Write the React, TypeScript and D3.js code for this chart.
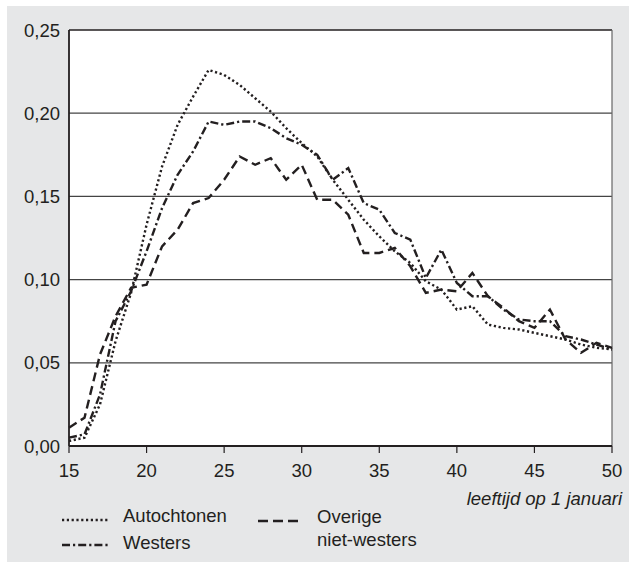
import React from "react";
import * as d3 from "d3";

const ages = [15,16,17,18,19,20,21,22,23,24,25,26,27,28,29,30,31,32,33,34,35,36,37,38,39,40,41,42,43,44,45,46,47,48,49,50];
const autochtonen = [0.003,0.005,0.025,0.063,0.092,0.133,0.168,0.193,0.21,0.226,0.223,0.217,0.209,0.201,0.191,0.182,0.174,0.16,0.148,0.136,0.126,0.117,0.11,0.099,0.094,0.082,0.084,0.073,0.071,0.07,0.068,0.066,0.064,0.061,0.059,0.058];
const westers = [0.005,0.007,0.031,0.075,0.093,0.117,0.143,0.163,0.177,0.195,0.193,0.195,0.195,0.191,0.185,0.181,0.175,0.16,0.167,0.146,0.142,0.128,0.124,0.101,0.118,0.098,0.09,0.09,0.082,0.076,0.075,0.075,0.066,0.064,0.061,0.058];
const overige = [0.011,0.017,0.055,0.078,0.095,0.097,0.12,0.13,0.146,0.149,0.16,0.174,0.169,0.173,0.16,0.169,0.148,0.148,0.139,0.116,0.116,0.119,0.108,0.092,0.094,0.093,0.104,0.09,0.083,0.075,0.071,0.082,0.064,0.056,0.062,0.059];
const yTicks = [0, 0.05, 0.1, 0.15, 0.2, 0.25];
const xTicks = [15, 20, 25, 30, 35, 40, 45, 50];
const xTitle = "leeftijd op 1 januari";

const INK = "#231f20";
const FONT = "'Liberation Sans', Arial, Helvetica, sans-serif";

export default function App() {
  const W = 629, H = 563;
  const x = d3.scaleLinear().domain([15, 50]).range([69, 612]);
  const y = d3.scaleLinear().domain([0, 0.25]).range([446, 30]);
  const mk = (vals: number[]) =>
    d3.line<number>().x((_, i) => x(ages[i])).y((v) => y(v))(vals) || "";
  const series = [
    { vals: autochtonen, dash: "2.2 2.6", w: 2.4 },
    { vals: westers, dash: "8 3 2.2 3", w: 2.4 },
    { vals: overige, dash: "9 5", w: 2.4 },
  ];
  const fmt = (v: number) => v.toFixed(2).replace(".", ",");
  return (
    <svg width={W} height={H} style={{ position: "absolute", left: 0, top: 0 }}>
      <rect x={7} y={6} width={W - 7} height={H - 7} fill="#e6e7e8" />
      <rect x={x(15)} y={y(0.25)} width={x(50) - x(15)} height={y(0) - y(0.25)} fill="#fff" />
      {yTicks.filter((t) => t > 0 && t < 0.25).map((t) => (
        <line key={t} x1={x(15)} x2={x(50)} y1={y(t)} y2={y(t)} stroke="#444" strokeWidth={1.2} />
      ))}
      <line x1={x(15)} x2={x(50)} y1={y(0.25)} y2={y(0.25)} stroke={INK} strokeWidth={1.5} />
      <line x1={x(50)} x2={x(50)} y1={y(0.25)} y2={y(0)} stroke="#666" strokeWidth={1.2} />
      {series.map((s, i) => (
        <path key={i} d={mk(s.vals)} fill="none" stroke={INK} strokeWidth={s.w} strokeDasharray={s.dash} />
      ))}
      <line x1={x(15)} x2={x(15)} y1={y(0.25)} y2={y(0)} stroke={INK} strokeWidth={1.8} />
      <line x1={x(15)} x2={x(50)} y1={y(0)} y2={y(0)} stroke={INK} strokeWidth={1.8} />
      {xTicks.map((t) => (
        <g key={t}>
          <line x1={x(t)} x2={x(t)} y1={y(0)} y2={y(0) + 7} stroke={INK} strokeWidth={1.2} />
          <text x={x(t)} y={470} textAnchor="middle" dominantBaseline="central" fontFamily={FONT} fontSize={18.5} fill={INK}>{t}</text>
        </g>
      ))}
      {yTicks.map((t) => (
        <text key={t} x={60} y={y(t)} textAnchor="end" dominantBaseline="central" fontFamily={FONT} fontSize={18.5} fill={INK}>{fmt(t)}</text>
      ))}
      <text x={622} y={498} textAnchor="end" dominantBaseline="central" fontFamily={FONT} fontSize={18.5} fontStyle="italic" fill={INK}>{xTitle}</text>
      <line x1={62} x2={108} y1={520} y2={520} stroke={INK} strokeWidth={2.4} strokeDasharray="2.2 2.6" />
      <text x={123} y={515} dominantBaseline="central" fontFamily={FONT} fontSize={18.5} fill={INK}>Autochtonen</text>
      <line x1={62} x2={108} y1={545} y2={545} stroke={INK} strokeWidth={2.4} strokeDasharray="8 3 2.2 3" />
      <text x={123} y={542} dominantBaseline="central" fontFamily={FONT} fontSize={18.5} fill={INK}>Westers</text>
      <line x1={258} x2={298} y1={521} y2={521} stroke={INK} strokeWidth={2.4} strokeDasharray="10 5" />
      <text x={317} y={516} dominantBaseline="central" fontFamily={FONT} fontSize={18.5} fill={INK}>Overige</text>
      <text x={317} y={539} dominantBaseline="central" fontFamily={FONT} fontSize={18.5} fill={INK}>niet-westers</text>
    </svg>
  );
}
